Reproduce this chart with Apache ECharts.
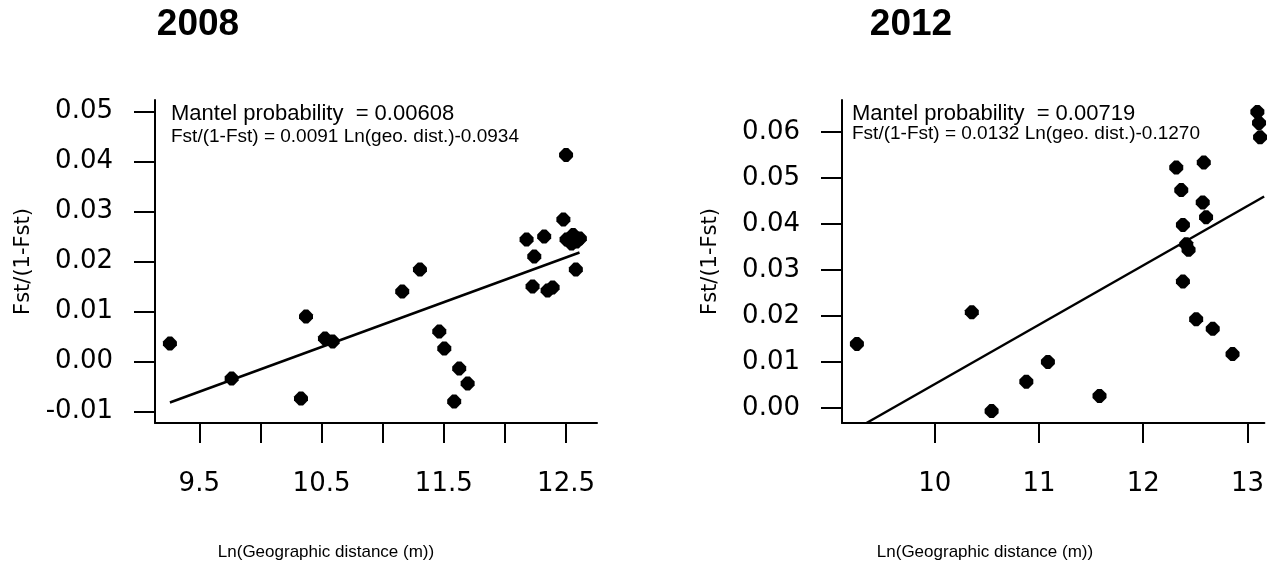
<!DOCTYPE html>
<html>
<head>
<meta charset="utf-8">
<script src="https://cdn.jsdelivr.net/npm/echarts@6/dist/echarts.min.js"></script>
<style>
  html, body { margin: 0; padding: 0; background: #fff; }
  #chart { width: 1267px; height: 564px; }
</style>
</head>
<body>
<div id="chart"></div>
<script>
// 2008 panel
const xTicks2008 = [9.5, 10, 10.5, 11, 11.5, 12, 12.5]
const xLabels2008 = [9.5, 10.5, 11.5, 12.5]
const yTicks2008 = [-0.01, 0, 0.01, 0.02, 0.03, 0.04, 0.05]
const dist2008 = [9.26, 9.765, 10.332, 10.373, 10.528, 10.591, 11.16, 11.305, 11.463, 11.504, 11.626, 11.695, 11.585,
  12.177, 12.24, 12.226, 12.321, 12.349, 12.39, 12.5, 12.478, 12.504, 12.558, 12.586, 12.545, 12.58, 12.613]
const fst2008 = [0.0036, -0.0034, -0.0074, 0.009, 0.0046, 0.004, 0.014, 0.0184, 0.006, 0.0026, -0.0014, -0.0044, -0.008,
  0.0244, 0.021, 0.015, 0.025, 0.0142, 0.0148, 0.0413, 0.0284, 0.0244, 0.0253, 0.024, 0.0236, 0.0184, 0.0246]
const fit2008 = [[9.26, -0.0082], [12.61, 0.0218]]

// 2012 panel
const xTicks2012 = [10, 11, 12, 13]
const yTicks2012 = [0, 0.01, 0.02, 0.03, 0.04, 0.05, 0.06]
const dist2012 = [9.254, 10.356, 10.546, 10.879, 11.086, 11.581, 12.317, 12.365, 12.381, 12.413, 12.435, 12.381,
  12.581, 12.571, 12.603, 12.508, 12.667, 12.857, 13.095, 13.111, 13.121]
const fst2012 = [0.0139, 0.0208, -0.0007, 0.0057, 0.01, 0.0026, 0.0523, 0.0474, 0.0398, 0.0356, 0.0344, 0.0275,
  0.0534, 0.0447, 0.0415, 0.0193, 0.0172, 0.0117, 0.0644, 0.062, 0.0589]
const fit2012 = [[9.346, -0.0033], [13.16, 0.046]]

const marker = 'path://M3.5,0 L6.5,0 L10,3.5 L10,6.5 L6.5,10 L3.5,10 L0,6.5 L0,3.5 Z'
const tickFont = 'DejaVu Sans'
const textFont = 'Liberation Sans'

function pairs(xs, ys) {
  return xs.map((x, i) => [x, ys[i]])
}

function xAxisFor(gridIndex, min, max, ticks, labels, fmt) {
  return {
    type: 'value',
    gridIndex: gridIndex,
    min: min,
    max: max,
    splitLine: { show: false },
    axisLine: { show: true, onZero: false, lineStyle: { color: '#000', width: 2 } },
    axisTick: { show: true, inside: false, length: 20, customValues: ticks, lineStyle: { color: '#000', width: 2 } },
    axisLabel: {
      customValues: labels,
      margin: 48,
      color: '#000',
      fontFamily: tickFont,
      fontSize: 26,
      formatter: fmt
    }
  }
}

function yAxisFor(gridIndex, min, max, ticks) {
  return {
    type: 'value',
    gridIndex: gridIndex,
    min: min,
    max: max,
    name: 'Fst/(1-Fst)',
    nameLocation: 'middle',
    nameRotate: 90,
    nameGap: 121,
    nameTextStyle: { color: '#000', fontFamily: tickFont, fontSize: 21 },
    splitLine: { show: false },
    axisLine: { show: true, onZero: false, lineStyle: { color: '#000', width: 2 } },
    axisTick: { show: true, inside: false, length: 21, customValues: ticks, lineStyle: { color: '#000', width: 2 } },
    axisLabel: {
      customValues: ticks,
      margin: 42,
      color: '#000',
      fontFamily: tickFont,
      fontSize: 26,
      formatter: (v) => v.toFixed(2)
    }
  }
}

function txt(x, y, text, size, bold, align) {
  return {
    type: 'text',
    x: x,
    y: y,
    silent: true,
    style: {
      text: text,
      fill: '#000',
      font: (bold ? 'bold ' : '') + size + 'px "' + textFont + '"',
      align: align || 'left',
      verticalAlign: 'middle'
    }
  }
}

const chart = echarts.init(document.getElementById('chart'), null, { renderer: 'canvas' })

chart.setOption({
  animation: false,
  backgroundColor: '#fff',
  grid: [
    { left: 155, top: 100, width: 442, height: 323 },
    { left: 842, top: 100, width: 425, height: 323 }
  ],
  xAxis: [
    xAxisFor(0, 9.138, 12.753, xTicks2008, xLabels2008, (v) => v.toFixed(1)),
    xAxisFor(1, 9.111, 13.162, xTicks2012, xTicks2012, (v) => String(Math.round(v)))
  ],
  yAxis: [
    yAxisFor(0, -0.0123, 0.0523, yTicks2008),
    yAxisFor(1, -0.0033, 0.067, yTicks2012)
  ],
  graphic: [
    txt(198, 25, '2008', 37, true, 'center'),
    txt(911, 25, '2012', 37, true, 'center'),
    txt(171, 114, 'Mantel probability  = 0.00608', 22),
    txt(171, 136.5, 'Fst/(1-Fst) = 0.0091 Ln(geo. dist.)-0.0934', 19),
    txt(852, 113.5, 'Mantel probability  = 0.00719', 22),
    txt(852, 134, 'Fst/(1-Fst) = 0.0132 Ln(geo. dist.)-0.1270', 19),
    txt(326, 552, 'Ln(Geographic distance (m))', 17, false, 'center'),
    txt(985, 552, 'Ln(Geographic distance (m))', 17, false, 'center')
  ],
  series: [
    {
      name: '2008',
      type: 'scatter',
      xAxisIndex: 0,
      yAxisIndex: 0,
      symbol: marker,
      symbolSize: 14,
      itemStyle: { color: '#000', opacity: 1 },
      data: pairs(dist2008, fst2008)
    },
    {
      name: 'fit 2008',
      type: 'line',
      xAxisIndex: 0,
      yAxisIndex: 0,
      showSymbol: false,
      lineStyle: { color: '#000', width: 2.5 },
      data: fit2008
    },
    {
      name: '2012',
      type: 'scatter',
      xAxisIndex: 1,
      yAxisIndex: 1,
      symbol: marker,
      symbolSize: 14,
      itemStyle: { color: '#000', opacity: 1 },
      data: pairs(dist2012, fst2012)
    },
    {
      name: 'fit 2012',
      type: 'line',
      xAxisIndex: 1,
      yAxisIndex: 1,
      showSymbol: false,
      lineStyle: { color: '#000', width: 2.5 },
      data: fit2012
    }
  ]
})
</script>
</body>
</html>
